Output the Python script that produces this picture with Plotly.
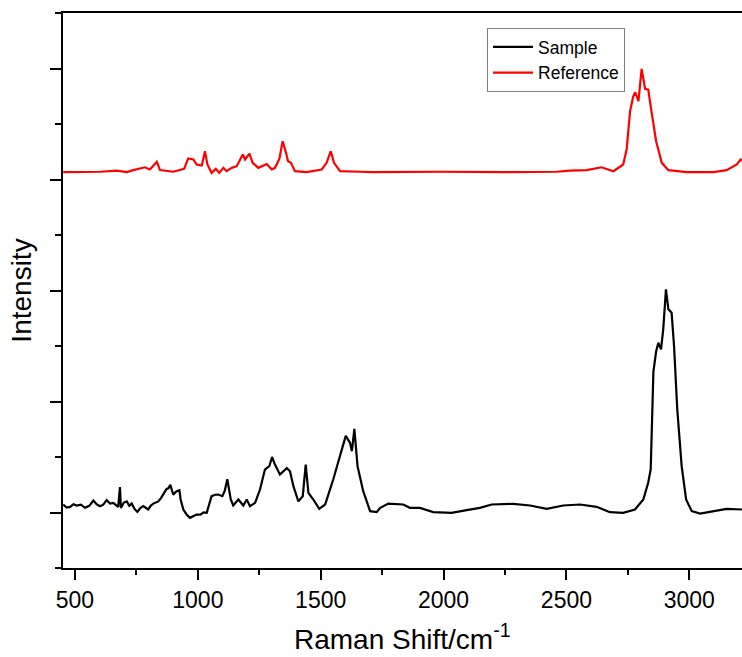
import plotly.graph_objects as go

# Raman shift (cm^-1) and intensity (offset, arbitrary units)
sample_x = [452, 466, 480, 494, 507, 524, 541, 558, 575, 588, 602, 615, 629, 643, 656, 676,
            683, 687, 699, 711, 721, 731, 743, 754, 766, 778, 798, 808, 819, 839, 850, 862,
            872, 881, 888, 900, 912, 925, 930, 941, 955, 968, 981, 995, 1010, 1023, 1036,
            1056, 1070, 1083, 1100, 1110, 1120, 1134, 1144, 1165, 1185, 1199, 1212, 1233,
            1253, 1273, 1291, 1302, 1314, 1334, 1362, 1375, 1389, 1409, 1427, 1439, 1450,
            1470, 1494, 1518, 1551, 1579, 1602, 1619, 1627, 1637, 1650, 1673, 1701, 1728,
            1741, 1775, 1836, 1863, 1904, 1958, 2033, 2094, 2148, 2196, 2284, 2352, 2420,
            2487, 2555, 2623, 2677, 2731, 2779, 2813, 2833, 2843, 2847, 2854, 2865, 2874,
            2885, 2894, 2905, 2915, 2928, 2938, 2951, 2969, 2987, 3010, 3044, 3098, 3152,
            3214]
sample_y = [0.072, 0.045, 0.05, 0.075, 0.063, 0.07, 0.042, 0.06, 0.108, 0.075, 0.057, 0.07,
            0.111, 0.08, 0.087, 0.05, 0.23, 0.04, 0.09, 0.10, 0.06, 0.08, 0.03, 0.006, 0.04,
            0.057, 0.027, 0.06, 0.08, 0.10, 0.13, 0.18, 0.21, 0.22, 0.25, 0.16, 0.19, 0.20,
            0.117, 0.027, -0.02, -0.048, -0.03, -0.018, -0.02, 0.0, -0.003, 0.147, 0.16,
            0.162, 0.147, 0.2, 0.30, 0.117, 0.063, 0.117, 0.063, 0.117, 0.057, 0.087, 0.207,
            0.387, 0.417, 0.50, 0.432, 0.342, 0.40, 0.372, 0.237, 0.10, 0.147, 0.432, 0.177,
            0.117, 0.033, 0.072, 0.297, 0.52, 0.69, 0.63, 0.552, 0.754, 0.417, 0.192, 0.012,
            0.003, 0.04, 0.08, 0.072, 0.042, 0.042, 0.003, -0.003, 0.021, 0.042, 0.072,
            0.078, 0.063, 0.033, 0.063, 0.072, 0.051, 0.003, -0.003, 0.027, 0.117, 0.27,
            0.39, 0.78, 1.27, 1.45, 1.53, 1.47, 1.65, 2.01, 1.83, 1.80, 1.50, 0.93, 0.417,
            0.117, 0.012, -0.009, 0.012, 0.033, 0.027]

reference_x = [452, 534, 602, 670, 711, 737, 785, 805, 833, 846, 900, 944, 961, 982, 995,
               1016, 1029, 1039, 1056, 1073, 1087, 1104, 1117, 1138, 1158, 1183, 1192, 1210,
               1223, 1246, 1280, 1301, 1314, 1332, 1345, 1359, 1367, 1379, 1395, 1443, 1504,
               1524, 1541, 1554, 1579, 1660, 1714, 1985, 2257, 2460, 2514, 2582, 2643, 2691,
               2731, 2745, 2759, 2772, 2780, 2793, 2806, 2820, 2833, 2847, 2865, 2888, 2915,
               2989, 3098, 3152, 3193, 3209, 3214]
reference_y = [3.066, 3.066, 3.07, 3.08, 3.066, 3.084, 3.11, 3.09, 3.16, 3.085, 3.07, 3.096,
               3.19, 3.18, 3.135, 3.126, 3.255, 3.135, 3.06, 3.096, 3.06, 3.105, 3.075, 3.105,
               3.12, 3.225, 3.18, 3.234, 3.15, 3.105, 3.14, 3.09, 3.105, 3.187, 3.345, 3.24,
               3.165, 3.15, 3.075, 3.066, 3.09, 3.15, 3.255, 3.15, 3.075, 3.07, 3.066, 3.07,
               3.066, 3.07, 3.08, 3.084, 3.11, 3.075, 3.135, 3.27, 3.615, 3.75, 3.786, 3.705,
               3.997, 3.817, 3.81, 3.60, 3.345, 3.15, 3.084, 3.066, 3.066, 3.084, 3.135, 3.18,
               3.17]

x_tick_vals = [500, 1000, 1500, 2000, 2500, 3000]
x_tick_text = ["500", "1000", "1500", "2000", "2500", "3000"]
x_title = "Raman Shift/cm<sup>-1</sup>"
y_title = "Intensity"

FONT = "Liberation Sans, Arial, sans-serif"

fig = go.Figure()
fig.add_trace(go.Scatter(x=sample_x, y=sample_y, mode="lines", name="Sample",
                         line=dict(color="black", width=2.2)))
fig.add_trace(go.Scatter(x=reference_x, y=reference_y, mode="lines", name="Reference",
                         line=dict(color="#ff0000", width=2.2)))

fig.update_layout(
    width=742, height=657,
    margin=dict(l=63, r=0, t=13, b=89),
    paper_bgcolor="white", plot_bgcolor="white",
    font=dict(family=FONT, color="black"),
    showlegend=True,
    legend=dict(x=0.6245, y=0.973, xanchor="left", yanchor="top",
                bgcolor="white", bordercolor="#808080", borderwidth=1,
                font=dict(size=17.5, family=FONT, color="black"),
                tracegroupgap=0, itemwidth=40),
    xaxis=dict(
        range=[451.3, 3214.5], showgrid=False, zeroline=False,
        showline=True, linecolor="black", linewidth=2, mirror=True,
        ticks="outside", ticklen=10, tickwidth=2, tickcolor="black",
        tickvals=x_tick_vals, ticktext=x_tick_text,
        tickfont=dict(size=23, family=FONT, color="black"),
        minor=dict(dtick=250, tick0=0, ticks="outside", ticklen=5, tickwidth=2,
                   tickcolor="black", showgrid=False),
    ),
    yaxis=dict(
        range=[-0.5, 4.5], showgrid=False, zeroline=False,
        showline=True, linecolor="black", linewidth=2,
        ticks="outside", ticklen=11, tickwidth=2, tickcolor="black",
        tick0=0, dtick=1, showticklabels=False,
        minor=dict(dtick=0.5, tick0=0, ticks="outside", ticklen=6, tickwidth=2,
                   tickcolor="black", showgrid=False),
        title=dict(text=y_title, font=dict(size=28, family=FONT), standoff=10),
    ),
    annotations=[dict(text=x_title, xref="paper", yref="paper", x=0.5, y=-0.125,
                      xanchor="center", yanchor="middle", showarrow=False,
                      font=dict(size=28, family=FONT, color="black"))],
)

fig.write_html("out.html")
